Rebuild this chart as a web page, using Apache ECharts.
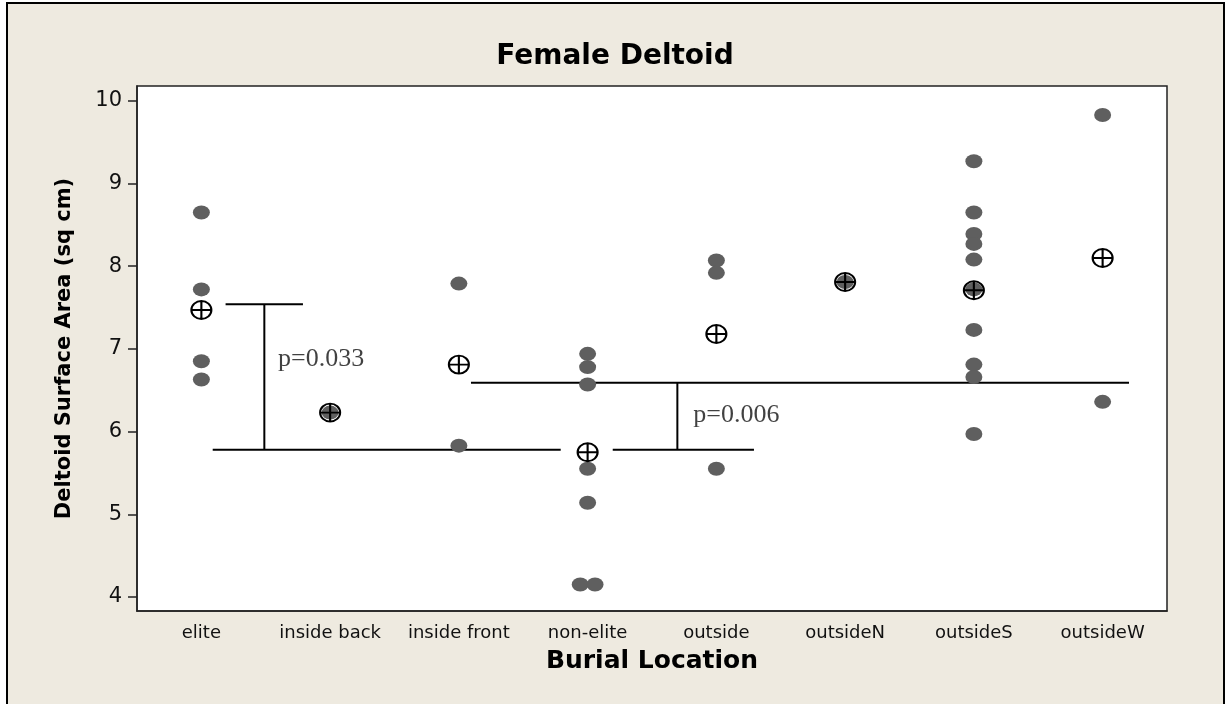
<!DOCTYPE html>
<html>
<head>
<meta charset="utf-8">
<title>Female Deltoid</title>
<script src="https://cdn.jsdelivr.net/npm/echarts@6/dist/echarts.min.js"></script>
<style>
    html, body { margin: 0; padding: 0; background: #fff; }
    #chart { width: 1230px; height: 704px; }
</style>
</head>
<body>
<div id="chart"></div>
<script>
// categories along the x axis
const categories = ['elite', 'inside back', 'inside front', 'non-elite', 'outside', 'outsideN', 'outsideS', 'outsideW'];

// individual values per burial location (sq cm)
const eliteVals = [8.65, 7.72, 6.85, 6.63];
const insideBackVals = [6.23];
const insideFrontVals = [7.79, 5.83];
const nonEliteVals = [6.94, 6.78, 6.57, 5.55, 5.14, 4.15, 4.15];
const outsideVals = [8.07, 7.92, 5.55];
const outsideNVals = [7.81];
const outsideSVals = [9.27, 8.65, 8.39, 8.27, 8.08, 7.72, 7.23, 6.81, 6.66, 5.97];
const outsideWVals = [9.83, 6.36];
const groupVals = [eliteVals, insideBackVals, insideFrontVals, nonEliteVals, outsideVals, outsideNVals, outsideSVals, outsideWVals];

// group means (the circled-cross markers)
const means = [7.47, 6.23, 6.81, 5.75, 7.18, 7.81, 7.71, 8.10];

// y axis ticks
const yTicks = [4, 5, 6, 7, 8, 9, 10];

// comparison brackets, x in category units, y in sq cm
const bracketSegments = [
    [[0.188, 7.54], [0.789, 7.54]],
    [[0.489, 7.54], [0.489, 5.78]],
    [[0.088, 5.78], [2.791, 5.78]],
    [[3.195, 5.78], [4.292, 5.78]],
    [[2.094, 6.59], [7.205, 6.59]],
    [[3.697, 6.59], [3.697, 5.78]]
];
const pLabels = [
    { name: 'p=0.033', value: [0.595, 6.875] },
    { name: 'p=0.006', value: [3.821, 6.198] }
];

// spread exact ties sideways like an individual value plot
const points = [];
groupVals.forEach((vals, i) => {
    const counts = {};
    vals.forEach(v => { counts[v] = (counts[v] || 0) + 1; });
    const seen = {};
    vals.forEach(v => {
        const n = counts[v];
        const k = seen[v] || 0;
        seen[v] = k + 1;
        points.push([i + (k - (n - 1) / 2) * 0.115, v]);
    });
});

const meanSymbol = 'path://M0,10A10,10,0,1,1,20,10A10,10,0,1,1,0,10ZM10,0L10,20M0,10L20,10';

const chart = echarts.init(document.getElementById('chart'));

const lineSeries = bracketSegments.map(seg => ({
    type: 'line',
    xAxisIndex: 1,
    data: seg,
    symbol: 'none',
    silent: true,
    lineStyle: { color: '#000', width: 2 },
    z: 3
}));

chart.setOption({
    backgroundColor: '#fff',
    animation: false,
    graphic: [{
        type: 'rect',
        shape: { x: 7, y: 3, width: 1217, height: 730 },
        style: { fill: '#EEEAE0', stroke: '#000', lineWidth: 2 },
        z: -10
    }],
    title: {
        text: 'Female Deltoid',
        left: 'center',
        top: 38,
        textStyle: { fontFamily: 'DejaVu Sans', fontWeight: 'bold', fontSize: 28, color: '#000' }
    },
    grid: {
        left: 137,
        right: 63,
        top: 86,
        bottom: 93,
        show: true,
        backgroundColor: '#fff',
        borderColor: '#222',
        borderWidth: 1.5
    },
    xAxis: [{
        type: 'category',
        data: categories,
        boundaryGap: true,
        name: 'Burial Location',
        nameLocation: 'middle',
        nameGap: 38,
        nameTextStyle: { fontFamily: 'DejaVu Sans', fontWeight: 'bold', fontSize: 25, color: '#000' },
        axisLine: { onZero: false, lineStyle: { color: '#222', width: 1.5 } },
        axisTick: { alignWithLabel: true, length: 8, lineStyle: { color: '#222', width: 1.5 } },
        axisLabel: { interval: 0, fontFamily: 'DejaVu Sans', fontSize: 18, color: '#111', margin: 13 },
        splitLine: { show: false }
    }, {
        type: 'value',
        min: -0.5,
        max: 7.5,
        show: false
    }],
    yAxis: {
        type: 'value',
        min: 3.83,
        max: 10.18,
        name: 'Deltoid Surface Area (sq cm)',
        nameLocation: 'middle',
        nameGap: 62,
        nameRotate: 90,
        nameTextStyle: { fontFamily: 'DejaVu Sans', fontWeight: 'bold', fontSize: 21, color: '#000' },
        axisLine: { show: true, onZero: false, lineStyle: { color: '#222', width: 1.5 } },
        axisTick: { show: true, length: 9, customValues: yTicks, lineStyle: { color: '#222', width: 1.5 } },
        axisLabel: { customValues: yTicks, fontFamily: 'DejaVu Sans', fontSize: 21, color: '#111', margin: 15 },
        splitLine: { show: false }
    },
    series: [
        ...lineSeries,
        {
            type: 'scatter',
            xAxisIndex: 1,
            data: points,
            symbol: 'circle',
            symbolSize: [17, 14],
            itemStyle: { color: '#5f5f5f', opacity: 1 },
            z: 4
        },
        {
            type: 'scatter',
            xAxisIndex: 1,
            data: means.map((m, i) => [i, m]),
            symbol: meanSymbol,
            symbolSize: [20, 18],
            itemStyle: { color: 'rgba(0,0,0,0)', borderColor: '#000', borderWidth: 2, opacity: 1 },
            z: 5
        },
        {
            type: 'scatter',
            xAxisIndex: 1,
            data: pLabels,
            symbolSize: 0,
            silent: true,
            label: {
                show: true,
                position: 'right',
                distance: 0,
                formatter: p => p.name,
                fontFamily: 'Liberation Serif',
                fontSize: 26,
                color: '#111'
            },
            z: 6
        }
    ]
});

window.addEventListener('resize', function () {
    chart.resize();
});
</script>
</body>
</html>
